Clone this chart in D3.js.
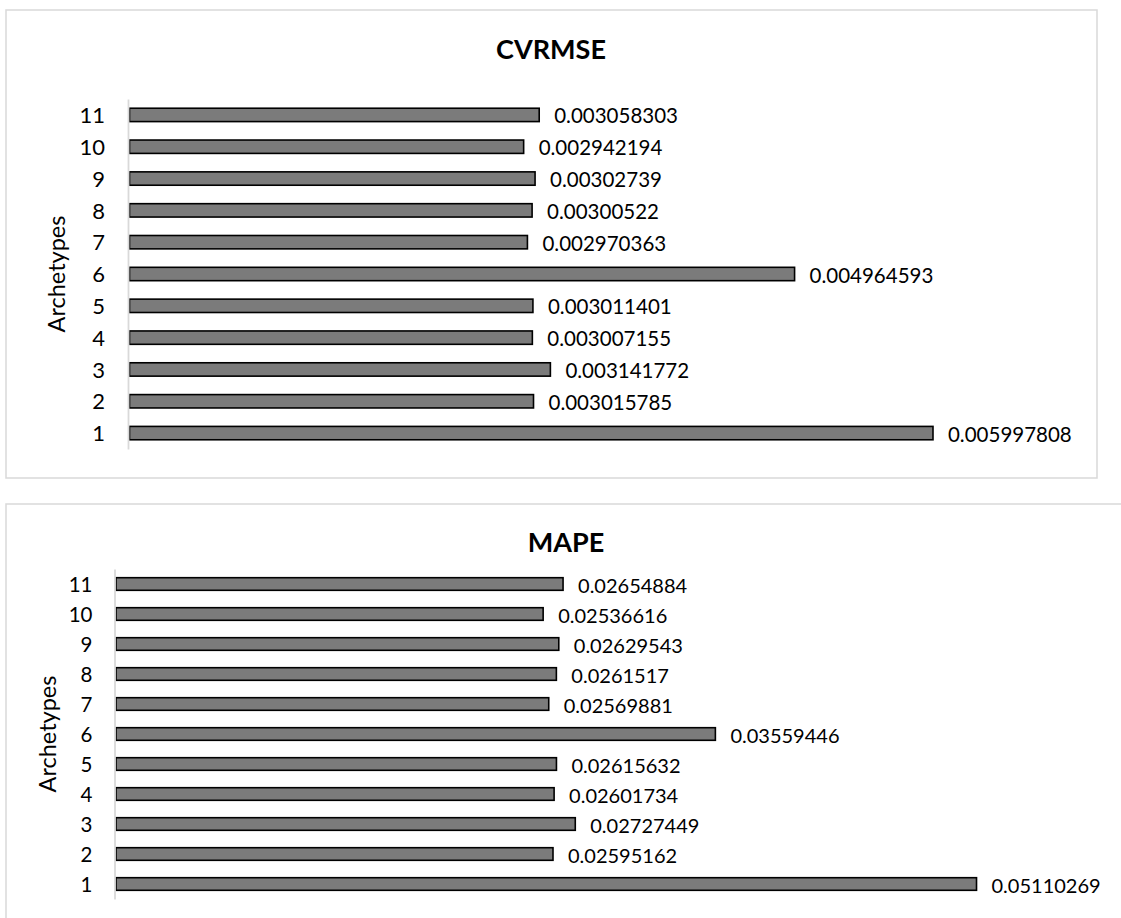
<!DOCTYPE html>
<html>
<head>
<meta charset="utf-8">
<script src="https://cdn.jsdelivr.net/npm/d3@7"></script>
<style>
  html, body { margin: 0; padding: 0; background: #fff; }
  svg { display: block; font-family: Lato, "Open Sans", sans-serif; }
</style>
</head>
<body>
<svg id="chart" width="1121" height="918"></svg>
<script>
// Archetype ids, listed bottom-to-top as drawn
const archetypes = ["1", "2", "3", "4", "5", "6", "7", "8", "9", "10", "11"];

// Coefficient of variation of RMSE per archetype
const cvrmseValues = [0.005997808, 0.003015785, 0.003141772, 0.003007155, 0.003011401,
  0.004964593, 0.002970363, 0.00300522, 0.00302739, 0.002942194, 0.003058303];

// Mean absolute percentage error per archetype
const mapeValues = [0.05110269, 0.02595162, 0.02727449, 0.02601734, 0.02615632,
  0.03559446, 0.02569881, 0.0261517, 0.02629543, 0.02536616, 0.02654884];

const panelTitles = ["CVRMSE", "MAPE"];
const axisTitle = "Archetypes";

const svg = d3.select("#chart");

function drawPanel(opts) {
  const g = svg.append("g");

  // chart frame
  g.append("rect")
    .attr("x", opts.frame[0]).attr("y", opts.frame[1])
    .attr("width", opts.frame[2]).attr("height", opts.frame[3])
    .attr("fill", "#fff").attr("stroke", "#d9d9d9").attr("stroke-width", 1.5);

  const rows = archetypes.map((a, i) => ({ id: a, value: opts.values[i] }));

  const y = d3.scaleBand()
    .domain(archetypes.slice().reverse())
    .range([opts.top, opts.bottom])
    .paddingInner(0.58).paddingOuter(0.29);

  const x = d3.scaleLinear()
    .domain([0, opts.max])
    .range([opts.left, opts.right]);

  // bars
  g.selectAll("rect.bar").data(rows).join("rect")
    .attr("class", "bar")
    .attr("x", x(0))
    .attr("y", d => y(d.id))
    .attr("width", d => x(d.value) - x(0))
    .attr("height", y.bandwidth())
    .attr("fill", "#7b7b7b")
    .attr("stroke", "#000")
    .attr("stroke-width", 1.6);

  // value labels
  g.selectAll("text.val").data(rows).join("text")
    .attr("class", "val")
    .attr("x", d => x(d.value) + 15)
    .attr("y", d => y(d.id) + y.bandwidth() / 2 + 8.5)
    .attr("font-size", opts.valueSize)
    .attr("fill", "#000")
    .text(d => String(d.value));

  // category axis
  const axis = g.append("g")
    .attr("transform", `translate(${opts.left - 1.5},0)`)
    .call(d3.axisLeft(y).tickSize(0).tickSizeOuter(0).tickPadding(opts.tickPad));
  axis.select(".domain").attr("stroke", "#d9d9d9").attr("stroke-width", 1.8);
  axis.selectAll(".tick text")
    .attr("font-family", "Lato, 'Open Sans', sans-serif")
    .attr("font-size", opts.tickSize)
    .attr("fill", "#000")
    .attr("dy", "0.37em");

  // panel title
  g.append("text")
    .attr("x", opts.titleX).attr("y", opts.titleY)
    .attr("text-anchor", "middle")
    .attr("font-size", 27).attr("font-weight", "bold")
    .attr("fill", "#000")
    .text(opts.title);

  // axis title
  g.append("text")
    .attr("transform", `translate(${opts.axisTitleX},${opts.axisTitleY}) rotate(-90)`)
    .attr("text-anchor", "middle")
    .attr("font-size", 23.5)
    .attr("fill", "#000")
    .text(axisTitle);
}

drawPanel({
  frame: [6, 10, 1091, 468],
  values: cvrmseValues,
  title: panelTitles[0],
  top: 99, bottom: 449,
  left: 129.5, right: 129.5 + 0.007 * 133965,
  max: 0.007,
  valueSize: 20.5, tickSize: 22, tickPad: 23,
  titleX: 551, titleY: 59,
  axisTitleX: 65, axisTitleY: 274
});

drawPanel({
  frame: [6, 504, 1130, 430],
  values: mapeValues,
  title: panelTitles[1],
  top: 569, bottom: 899,
  left: 116, right: 116 + 0.06 * 16839,
  max: 0.06,
  valueSize: 20, tickSize: 20.5, tickPad: 22,
  titleX: 566, titleY: 552,
  axisTitleX: 56, axisTitleY: 734
});
</script>
</body>
</html>
